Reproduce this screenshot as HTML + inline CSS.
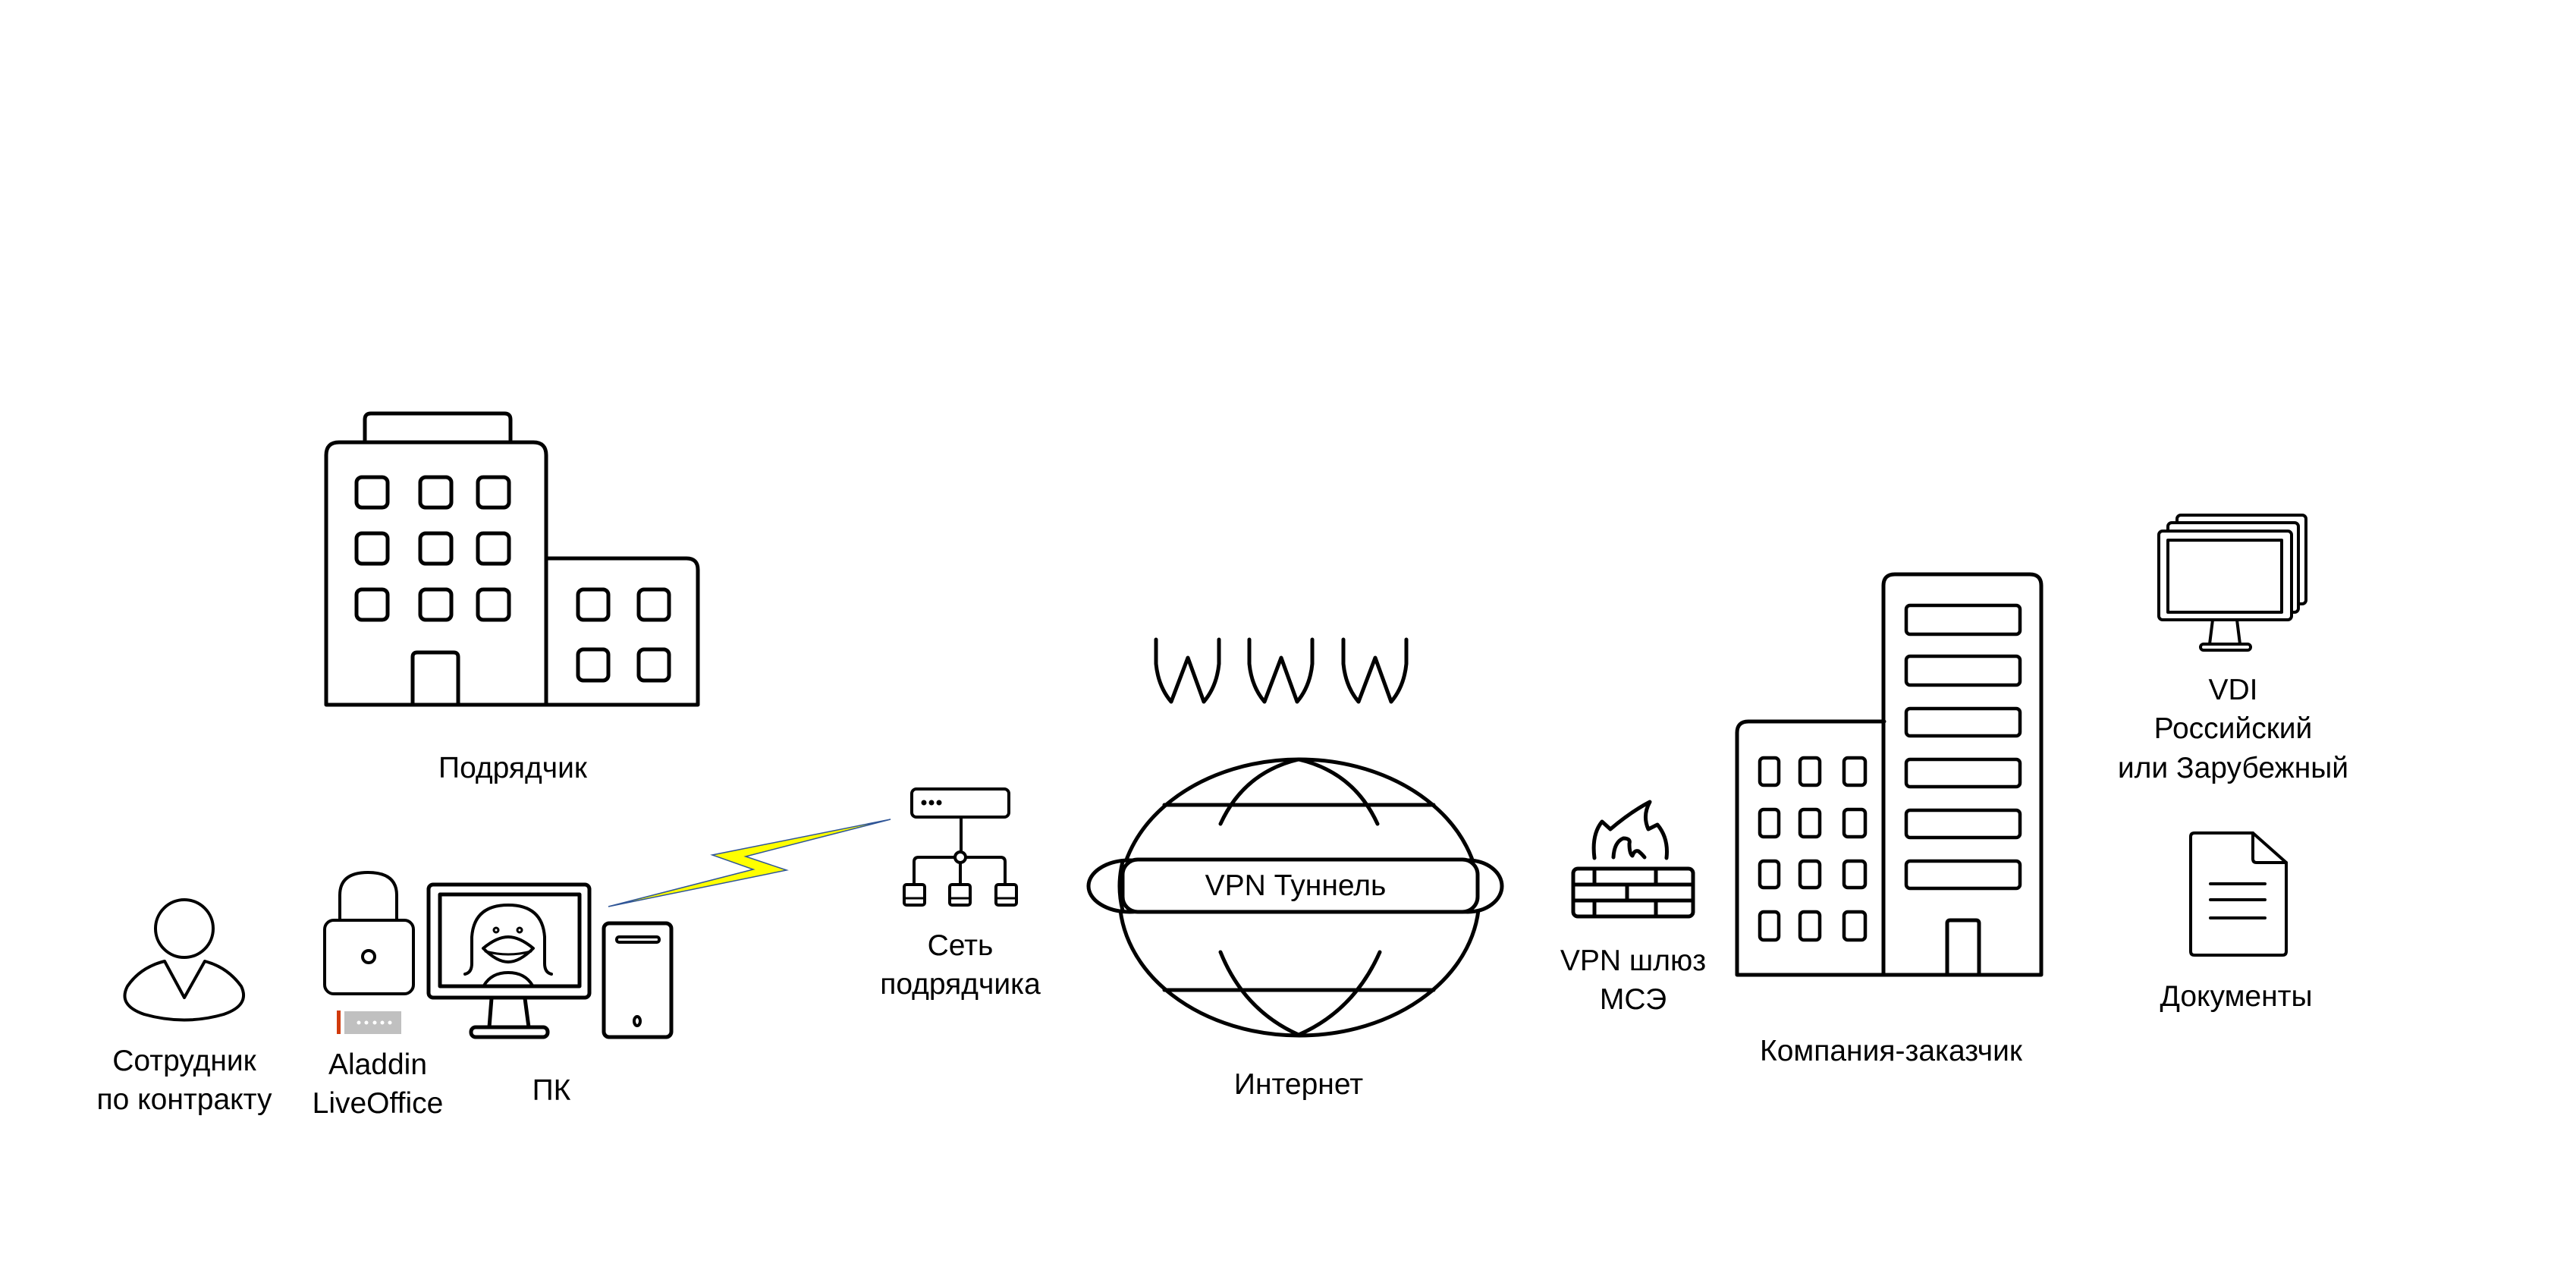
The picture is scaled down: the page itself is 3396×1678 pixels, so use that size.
<!DOCTYPE html>
<html><head><meta charset="utf-8"><style>
html,body{margin:0;padding:0;background:#fff;}
svg{display:block;}
text{font-family:"Liberation Sans",sans-serif;font-size:39px;fill:#000;text-anchor:middle;}
</style></head><body>
<svg width="3396" height="1678" viewBox="0 0 3396 1678" xmlns="http://www.w3.org/2000/svg">
<rect width="3396" height="1678" fill="#fff"/>
<g fill="none" stroke="#000" stroke-width="5" stroke-linejoin="round" stroke-linecap="round">
<!-- Building Подрядчик -->
<path d="M481 580 V553 Q481 545 489 545 H665 Q673 545 673 553 V580"/>
<path d="M430 929 V600 Q430 583 447 583 H703 Q720 583 720 600 V929"/>
<path d="M720 736 H905 Q920 736 920 751 V929"/>
<path d="M430 929 H920" stroke-linecap="butt"/>
<path d="M544 929 V866 Q544 860 550 860 H598 Q604 860 604 866 V929"/>
<g>
<rect x="470" y="629" width="41" height="40" rx="7"/><rect x="554" y="629" width="41" height="40" rx="7"/><rect x="630" y="629" width="41" height="40" rx="7"/>
<rect x="470" y="703" width="41" height="40" rx="7"/><rect x="554" y="703" width="41" height="40" rx="7"/><rect x="630" y="703" width="41" height="40" rx="7"/>
<rect x="470" y="777" width="41" height="40" rx="7"/><rect x="554" y="777" width="41" height="40" rx="7"/><rect x="630" y="777" width="41" height="40" rx="7"/>
<rect x="762" y="777" width="40" height="40" rx="7"/><rect x="842" y="777" width="40" height="40" rx="7"/>
<rect x="762" y="856" width="40" height="41" rx="7"/><rect x="842" y="856" width="40" height="41" rx="7"/>
</g>
<!-- Person -->
<circle cx="243" cy="1224" r="38" stroke-width="4"/>
<path d="M217 1267 L243 1315 L270 1267 Q300 1275 318 1300 Q330 1325 295 1337 Q243 1352 190 1337 Q155 1325 168 1300 Q185 1275 217 1267 Z" stroke-width="4"/>
<!-- Lock -->
<path d="M448 1212 V1180 Q448 1150 485 1150 Q523 1150 523 1180 V1212" stroke-width="4"/>
<rect x="428" y="1213" width="117" height="97" rx="12" stroke-width="4"/>
<circle cx="486" cy="1261" r="8" stroke-width="4"/>
<!-- PC monitor -->
<rect x="565" y="1166" width="212" height="149" rx="6"/>
<rect x="580" y="1179" width="184" height="121"/>
<path d="M613 1284 Q622 1282 622 1270 V1235 Q625 1193 670 1193 Q715 1193 718 1235 V1270 Q718 1282 727 1284" stroke-width="4"/>
<circle cx="654" cy="1226" r="3" stroke-width="3"/><circle cx="685" cy="1226" r="3" stroke-width="3"/>
<path d="M637 1250 Q655 1235 670 1235 Q685 1235 703 1250 Q685 1268 670 1268 Q655 1268 637 1250 Z" stroke-width="4"/>
<path d="M640 1254 Q670 1262 700 1254" stroke-width="3"/>
<path d="M638 1299 Q648 1282 670 1282 Q692 1282 702 1299" stroke-width="4"/>
<path d="M648 1316 L645 1354 M692 1316 L697 1354"/>
<rect x="621" y="1354" width="101" height="13" rx="6"/>
<!-- Tower -->
<rect x="796" y="1217" width="89" height="150" rx="7"/>
<rect x="813" y="1235" width="56" height="7" rx="3" stroke-width="4"/>
<ellipse cx="840" cy="1346" rx="4" ry="6" stroke-width="4"/>
<!-- Network -->
<rect x="1202" y="1040" width="128" height="37" rx="6" stroke-width="4"/>
<path d="M1267 1077 V1124 M1205 1166 V1136 Q1205 1130 1211 1130 H1319 Q1325 1130 1325 1136 V1166 M1266 1130 V1166" stroke-width="4"/>
<circle cx="1266" cy="1130" r="7" fill="#fff" stroke-width="4"/>
<rect x="1192" y="1166" width="27" height="27" rx="3" stroke-width="4"/><path d="M1192 1184 H1219" stroke-width="3"/>
<rect x="1252" y="1166" width="27" height="27" rx="3" stroke-width="4"/><path d="M1252 1184 H1279" stroke-width="3"/>
<rect x="1313" y="1166" width="27" height="27" rx="3" stroke-width="4"/><path d="M1313 1184 H1340" stroke-width="3"/>
<!-- WWW -->
<path d="M1524 843 V875 Q1527 905 1544 925 L1566 867 L1587 925 Q1604 905 1607 875 V843"/>
<path d="M1524 843 V875 Q1527 905 1544 925 L1566 867 L1587 925 Q1604 905 1607 875 V843" transform="translate(123,0)"/>
<path d="M1524 843 V875 Q1527 905 1544 925 L1566 867 L1587 925 Q1604 905 1607 875 V843" transform="translate(247,0)"/>
<!-- Globe -->
<ellipse cx="1713" cy="1183" rx="237" ry="182"/>
<path d="M1535 1061 H1890 M1535 1305 H1890"/>
<path d="M1609 1086 Q1640 1018 1712 1001 Q1785 1018 1816 1086"/>
<path d="M1609 1255 Q1640 1332 1712 1364 Q1785 1332 1819 1255"/>
<ellipse cx="1489" cy="1168" rx="54" ry="34" fill="#fff"/>
<ellipse cx="1935" cy="1168" rx="45" ry="34" fill="#fff"/>
<rect x="1480" y="1133" width="468" height="69" rx="20" fill="#fff"/>
<path d="M1480 1136 Q1472 1168 1480 1200" />
<!-- Firewall -->
<path d="M2102 1131 Q2098 1100 2112 1083 L2123 1093 Q2150 1070 2175 1057 Q2165 1075 2173 1093 L2185 1087 Q2200 1105 2197 1131"/>
<path d="M2127 1130 Q2128 1110 2140 1105 Q2150 1105 2148 1112 Q2148 1125 2152 1128 Q2155 1120 2160 1122 Q2164 1125 2168 1130"/>
<rect x="2074" y="1145" width="158" height="63" rx="6"/>
<path d="M2074 1166 H2232 M2074 1187 H2232 M2102 1145 V1166 M2183 1145 V1166 M2145 1166 V1187 M2102 1187 V1208 M2183 1187 V1208"/>
<!-- Company buildings -->
<path d="M2290 1285 V966 Q2290 951 2305 951 H2484"/>
<path d="M2483 1285 V772 Q2483 757 2498 757 H2676 Q2691 757 2691 772 V1285"/>
<path d="M2290 1285 H2691" stroke-linecap="butt"/>
<path d="M2567 1285 V1217 Q2567 1213 2571 1213 H2605 Q2609 1213 2609 1217 V1285"/>
<g stroke-width="4.5">
<rect x="2320" y="999" width="25" height="36" rx="5"/><rect x="2373" y="999" width="26" height="36" rx="5"/><rect x="2431" y="999" width="28" height="36" rx="5"/>
<rect x="2320" y="1067" width="25" height="36" rx="5"/><rect x="2373" y="1067" width="26" height="36" rx="5"/><rect x="2431" y="1067" width="28" height="36" rx="5"/>
<rect x="2320" y="1135" width="25" height="35" rx="5"/><rect x="2373" y="1135" width="26" height="35" rx="5"/><rect x="2431" y="1135" width="28" height="35" rx="5"/>
<rect x="2320" y="1202" width="25" height="37" rx="5"/><rect x="2373" y="1202" width="26" height="37" rx="5"/><rect x="2431" y="1202" width="28" height="37" rx="5"/>
<rect x="2513" y="798" width="150" height="38" rx="5"/>
<rect x="2513" y="865" width="150" height="38" rx="5"/>
<rect x="2513" y="934" width="150" height="36" rx="5"/>
<rect x="2513" y="1001" width="150" height="36" rx="5"/>
<rect x="2513" y="1068" width="150" height="36" rx="5"/>
<rect x="2513" y="1135" width="150" height="36" rx="5"/>
</g>
<!-- VDI -->
<rect x="2870" y="679" width="170" height="117" rx="5" fill="#fff" stroke-width="4"/>
<rect x="2858" y="689" width="172" height="118" rx="5" fill="#fff" stroke-width="4"/>
<rect x="2846" y="700" width="175" height="117" rx="5" fill="#fff" stroke-width="4"/>
<rect x="2858" y="712" width="150" height="95" stroke-width="4"/>
<path d="M2917 817 L2913 849 M2949 817 L2953 849" stroke-width="4"/>
<rect x="2901" y="849" width="66" height="8" rx="4" stroke-width="4"/>
<!-- Document -->
<path d="M2888 1103 Q2888 1098 2893 1098 H2970 L3014 1137 V1254 Q3014 1259 3009 1259 H2893 Q2888 1259 2888 1254 Z" stroke-width="4"/>
<path d="M2970 1098 V1132 Q2970 1137 2975 1137 H3014" stroke-width="4"/>
<path d="M2914 1165 H2986 M2914 1186 H2986 M2914 1210 H2986" stroke-width="4"/>
</g>
<!-- Key token -->
<rect x="444" y="1332" width="5" height="31" fill="#d13a0c"/>
<rect x="454" y="1333" width="75" height="30" fill="#c0c0c0"/>
<g fill="#fff"><circle cx="473" cy="1348" r="2.5"/><circle cx="483" cy="1348" r="2.5"/><circle cx="494" cy="1348" r="2.5"/><circle cx="504" cy="1348" r="2.5"/><circle cx="514" cy="1348" r="2.5"/></g>
<!-- Network dots -->
<g fill="#000"><circle cx="1218" cy="1058" r="3.5"/><circle cx="1228" cy="1058" r="3.5"/><circle cx="1238" cy="1058" r="3.5"/></g>
<!-- Lightning -->
<path d="M802 1195 L1037 1147 L983 1129 L1174 1080 L939 1127 L993 1146 Z" fill="#ffff00" stroke="#2f5597" stroke-width="1.5" stroke-linejoin="miter"/>
<!-- Labels -->
<text x="676" y="1025">Подрядчик</text>
<text x="243" y="1411">Сотрудник</text>
<text x="243" y="1462">по контракту</text>
<text x="498" y="1416">Aladdin</text>
<text x="498" y="1467">LiveOffice</text>
<text x="727" y="1450">ПК</text>
<text x="1266" y="1259">Сеть</text>
<text x="1266" y="1310">подрядчика</text>
<text x="1708" y="1180">VPN Туннель</text>
<text x="1712" y="1442">Интернет</text>
<text x="2153" y="1279">VPN шлюз</text>
<text x="2153" y="1330">МСЭ</text>
<text x="2493" y="1398">Компания-заказчик</text>
<text x="2944" y="922">VDI</text>
<text x="2944" y="973">Российский</text>
<text x="2944" y="1025">или Зарубежный</text>
<text x="2948" y="1326">Документы</text>
</svg>
</body></html>
